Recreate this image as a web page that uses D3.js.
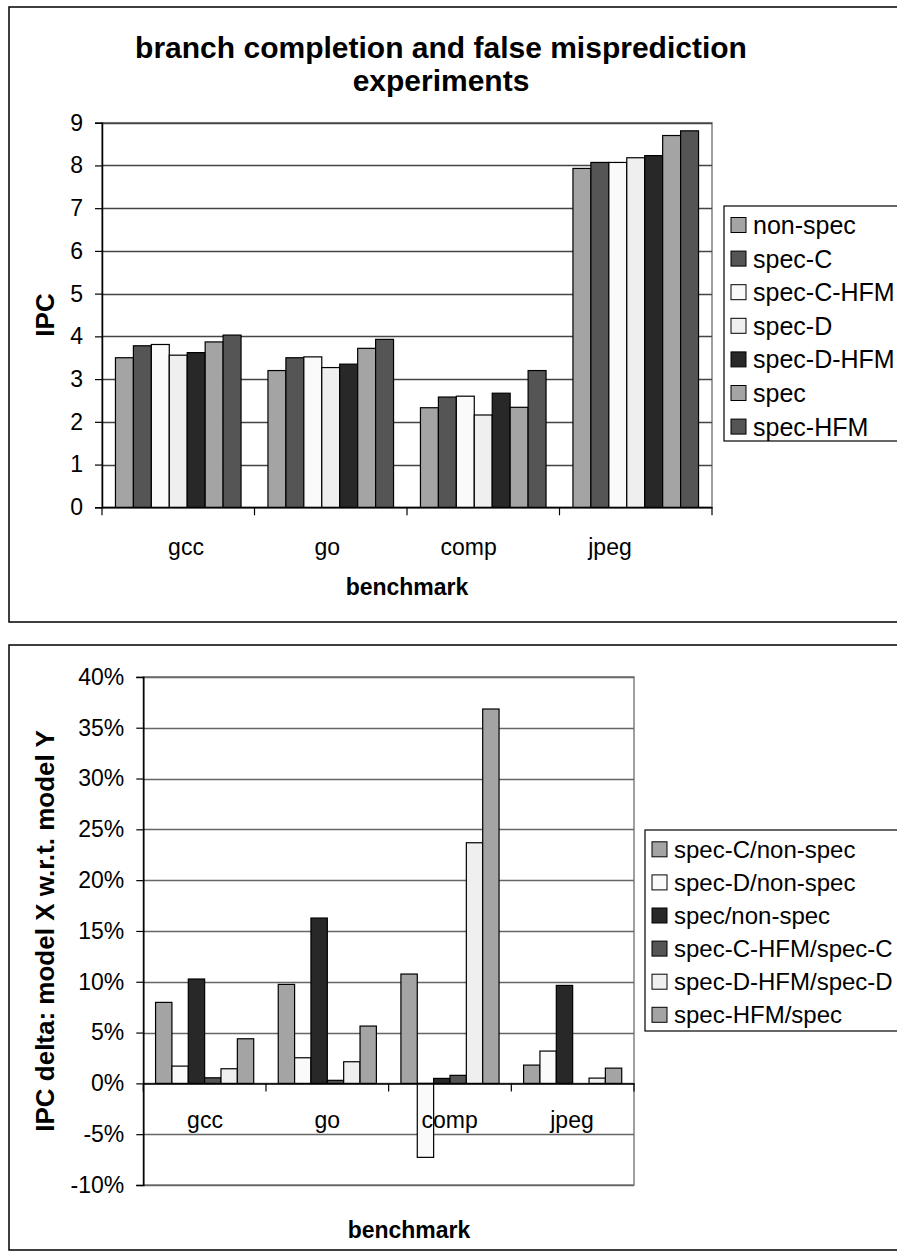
<!DOCTYPE html>
<html><head><meta charset="utf-8">
<script src="https://cdn.jsdelivr.net/npm/d3@7"></script>
<style>
html,body{margin:0;padding:0;background:#fff;}
svg text{font-family:Arial,"Liberation Sans",sans-serif;fill:#000;}
</style></head>
<body><svg id="c" width="897" height="1253"></svg>
<script>
// ---------- data ----------
const categories = ["gcc", "go", "comp", "jpeg"];

// chart 1: IPC
const ipcSeries = ["non-spec", "spec-C", "spec-C-HFM", "spec-D", "spec-D-HFM", "spec", "spec-HFM"];
const nonSpec  = [3.50, 3.20, 2.33, 7.93];
const specC    = [3.78, 3.50, 2.58, 8.07];
const specCHFM = [3.81, 3.52, 2.60, 8.07];
const specD    = [3.56, 3.27, 2.16, 8.18];
const specDHFM = [3.62, 3.35, 2.67, 8.23];
const spec     = [3.87, 3.72, 2.34, 8.70];
const specHFM  = [4.03, 3.93, 3.20, 8.81];
const ipcTicks = [0, 1, 2, 3, 4, 5, 6, 7, 8, 9];

// chart 2: IPC delta (%)
const deltaSeries = ["spec-C/non-spec", "spec-D/non-spec", "spec/non-spec", "spec-C-HFM/spec-C", "spec-D-HFM/spec-D", "spec-HFM/spec"];
const specC_nonSpec     = [7.97, 9.74, 10.76, 1.80];
const specD_nonSpec     = [1.70, 2.52, -7.28, 3.18];
const spec_nonSpec      = [10.27, 16.27, 0.49, 9.64];
const specCHFM_specC    = [0.55, 0.30, 0.79, 0.00];
const specDHFM_specD    = [1.44, 2.13, 23.68, 0.52];
const specHFM_spec      = [4.39, 5.64, 36.84, 1.50];
const deltaTicks = [-10, -5, 0, 5, 10, 15, 20, 25, 30, 35, 40];

// fills
const ipcFills   = ["#a4a4a4", "#555555", "#fafafa", "#efefef", "#282828", "#a4a4a4", "#555555"];
const deltaFills = ["#a4a4a4", "#fafafa", "#282828", "#555555", "#efefef", "#a4a4a4"];

const ipcValues = [nonSpec, specC, specCHFM, specD, specDHFM, spec, specHFM];
const deltaValues = [specC_nonSpec, specD_nonSpec, spec_nonSpec, specCHFM_specC, specDHFM_specD, specHFM_spec];

// ---------- drawing ----------
const svg = d3.select("#c");
const FONT = 23;

function drawChart(cfg) {
  const g = svg.append("g");
  g.append("rect").attr("x", cfg.frame[0]).attr("y", cfg.frame[1])
    .attr("width", cfg.frame[2]).attr("height", cfg.frame[3])
    .attr("fill", "#fff").attr("stroke", "#000").attr("stroke-width", 1.5);

  const x = d3.scaleBand().domain(categories).range([cfg.left, cfg.right]).paddingInner(0).paddingOuter(0);
  const xs = d3.scaleBand().domain(cfg.series).range([0, x.bandwidth()]).paddingInner(0).paddingOuter(0.75);
  const y = d3.scaleLinear().domain(cfg.domain).range([cfg.bottom, cfg.top]);
  // label positions (the original renders category labels on their own spacing)
  const xl = d3.scalePoint().domain(categories).range(cfg.labelRange);

  g.append("rect").attr("x", cfg.left).attr("y", cfg.top)
    .attr("width", cfg.right - cfg.left).attr("height", cfg.bottom - cfg.top)
    .attr("fill", "none").attr("stroke", "#808080").attr("stroke-width", 1.5);

  g.append("g").selectAll("line").data(cfg.ticks).join("line")
    .attr("x1", cfg.left).attr("x2", cfg.right)
    .attr("y1", d => Math.round(y(d)) + 0.5).attr("y2", d => Math.round(y(d)) + 0.5)
    .attr("stroke", cfg.gridColor).attr("stroke-width", 1.5);

  cfg.series.forEach((s, i) => {
    g.append("g").selectAll("rect").data(categories.map((c, j) => ({ c, v: cfg.values[i][j] }))).join("rect")
      .attr("x", d => x(d.c) + xs(s))
      .attr("width", xs.bandwidth())
      .attr("y", d => y(Math.max(0, d.v)))
      .attr("height", d => Math.abs(y(d.v) - y(0)))
      .attr("fill", cfg.fills[i]).attr("stroke", "#000").attr("stroke-width", 1.2);
  });

  const ya = d3.axisLeft(y).tickValues(cfg.ticks).tickSize(7).tickPadding(12).tickFormat(cfg.fmt);
  const yg = g.append("g").attr("transform", `translate(${cfg.left},0)`).call(ya);
  yg.select(".domain").attr("stroke", "#000").attr("stroke-width", 1.5);
  yg.selectAll(".tick line").attr("stroke", "#000").attr("stroke-width", 1.2);
  yg.selectAll(".tick text").attr("font-size", FONT).attr("font-family", "Arial, 'Liberation Sans', sans-serif").attr("fill", "#000");

  const xa = d3.axisBottom(x).tickSize(0).tickFormat("");
  const xg = g.append("g").attr("transform", `translate(0,${y(0)})`).call(xa);
  xg.select(".domain").attr("stroke", "#000").attr("stroke-width", 1.5);
  g.append("g").selectAll("line").data(categories.concat(["_end"])).join("line")
    .attr("x1", (d, i) => i < categories.length ? x(d) : cfg.right)
    .attr("x2", (d, i) => i < categories.length ? x(d) : cfg.right)
    .attr("y1", y(0)).attr("y2", y(0) + 8)
    .attr("stroke", "#000").attr("stroke-width", 1.2);
  g.append("g").selectAll("text").data(categories).join("text")
    .attr("x", d => xl(d)).attr("y", cfg.catY)
    .attr("text-anchor", "middle").attr("dominant-baseline", "central")
    .attr("font-size", FONT).text(d => d);

  g.append("text").attr("x", cfg.xTitleX).attr("y", cfg.xTitleY)
    .attr("text-anchor", "middle").attr("dominant-baseline", "central")
    .attr("font-size", FONT).attr("font-weight", "bold").text("benchmark");
  g.append("text").attr("transform", `translate(${cfg.yTitleX},${(cfg.top + cfg.bottom) / 2}) rotate(-90)`)
    .attr("text-anchor", "middle").attr("dominant-baseline", "central")
    .attr("font-size", cfg.yTitleSize).attr("font-weight", "bold").text(cfg.yTitle);

  const L = cfg.legend;
  g.append("rect").attr("x", L.x).attr("y", L.y).attr("width", 300).attr("height", L.h)
    .attr("fill", "#fff").attr("stroke", "#000").attr("stroke-width", 1.2);
  const li = g.append("g").selectAll("g").data(cfg.series).join("g")
    .attr("transform", (d, i) => `translate(${L.x + 7},${L.first + i * L.step})`);
  li.append("rect").attr("x", 0).attr("y", -7.5).attr("width", 15).attr("height", 15)
    .attr("fill", (d, i) => cfg.fills[i]).attr("stroke", "#000").attr("stroke-width", 1);
  li.append("text").attr("x", 22).attr("y", 0).attr("dominant-baseline", "central")
    .attr("font-size", L.font).text(d => d);
  return g;
}

const g1 = drawChart({
  frame: [9, 7, 920, 615],
  left: 102, right: 712, top: 122.7, bottom: 507.3,
  domain: [0, 9], ticks: ipcTicks, fmt: d3.format("d"),
  series: ipcSeries, values: ipcValues, fills: ipcFills, gridColor: "#444",
  labelRange: [186, 610],
  catY: 547, xTitleX: 407, xTitleY: 587, yTitleX: 45, yTitle: "IPC", yTitleSize: 26,
  legend: { x: 724, y: 206, h: 235, first: 225, step: 33.6, font: 25 }
});
g1.append("text").attr("x", 441).attr("y", 47).attr("text-anchor", "middle").attr("dominant-baseline", "central")
  .attr("font-size", 30).attr("font-weight", "bold").text("branch completion and false misprediction");
g1.append("text").attr("x", 441).attr("y", 80).attr("text-anchor", "middle").attr("dominant-baseline", "central")
  .attr("font-size", 30).attr("font-weight", "bold").text("experiments");

drawChart({
  frame: [9, 645, 920, 605],
  left: 143.3, right: 634, top: 676.9, bottom: 1185,
  domain: [-10, 40], ticks: deltaTicks, fmt: d => d + "%",
  series: deltaSeries, values: deltaValues, fills: deltaFills, gridColor: "#666",
  labelRange: [205, 572],
  catY: 1120, xTitleX: 409, xTitleY: 1230, yTitleX: 45, yTitle: "IPC delta: model X w.r.t. model Y", yTitleSize: 26,
  legend: { x: 645, y: 830, h: 201, first: 849.3, step: 33.1, font: 24 }
});
</script></body></html>
